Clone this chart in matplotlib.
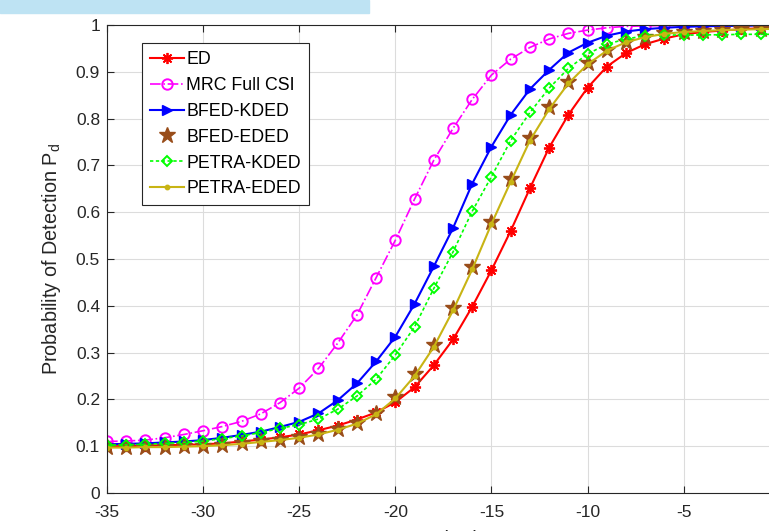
import numpy as np
import matplotlib
matplotlib.use("Agg")
import matplotlib.pyplot as plt
from matplotlib.patches import Rectangle
from matplotlib.ticker import FuncFormatter

plt.rcParams['font.family'] = ['Liberation Sans', 'DejaVu Sans']
plt.rcParams['axes.unicode_minus'] = False

# SNR grid (dB)
snr = np.arange(-35, 1)

# ED
pd_ed = [0.100, 0.100, 0.101, 0.102, 0.103, 0.104, 0.106, 0.110, 0.114, 0.119,
         0.125, 0.134, 0.144, 0.157, 0.172, 0.194, 0.226, 0.273, 0.328, 0.398,
         0.476, 0.560, 0.651, 0.738, 0.808, 0.866, 0.911, 0.940, 0.959, 0.971,
         0.980, 0.985, 0.988, 0.991, 0.993, 0.995]
# MRC Full CSI
pd_mrc = [0.110, 0.111, 0.113, 0.118, 0.125, 0.133, 0.142, 0.153, 0.169, 0.193,
          0.224, 0.266, 0.320, 0.380, 0.460, 0.540, 0.628, 0.711, 0.779, 0.841,
          0.893, 0.927, 0.952, 0.970, 0.982, 0.989, 0.994, 0.997, 0.998, 0.999,
          0.999, 1.000, 1.000, 1.000, 1.000, 1.000]
# BFED-KDED
pd_bfed_kded = [0.104, 0.105, 0.106, 0.108, 0.110, 0.113, 0.118, 0.124, 0.131, 0.141,
                0.152, 0.170, 0.198, 0.234, 0.281, 0.334, 0.404, 0.484, 0.566, 0.661,
                0.740, 0.808, 0.863, 0.904, 0.941, 0.962, 0.977, 0.986, 0.991, 0.994,
                0.996, 0.997, 0.998, 0.998, 0.999, 0.999]
# BFED-EDED
pd_bfed_eded = [0.098, 0.098, 0.099, 0.099, 0.100, 0.101, 0.103, 0.106, 0.110, 0.114,
                0.119, 0.126, 0.136, 0.149, 0.170, 0.205, 0.254, 0.316, 0.395, 0.483,
                0.580, 0.670, 0.758, 0.824, 0.878, 0.918, 0.947, 0.964, 0.975, 0.982,
                0.986, 0.988, 0.990, 0.991, 0.992, 0.993]
# PETRA-KDED
pd_petra_kded = [0.102, 0.103, 0.104, 0.106, 0.108, 0.111, 0.116, 0.122, 0.129, 0.138,
                 0.146, 0.158, 0.179, 0.207, 0.243, 0.295, 0.355, 0.437, 0.515, 0.602,
                 0.676, 0.753, 0.813, 0.865, 0.907, 0.938, 0.959, 0.970, 0.977, 0.979,
                 0.978, 0.979, 0.979, 0.980, 0.980, 0.980]
# PETRA-EDED
pd_petra_eded = [0.097, 0.097, 0.098, 0.098, 0.099, 0.100, 0.102, 0.105, 0.109, 0.113,
                 0.118, 0.125, 0.135, 0.148, 0.168, 0.202, 0.250, 0.312, 0.390, 0.478,
                 0.575, 0.665, 0.753, 0.820, 0.875, 0.916, 0.945, 0.963, 0.974, 0.981,
                 0.985, 0.987, 0.989, 0.990, 0.991, 0.992]

fig = plt.figure(figsize=(7.69, 5.31), dpi=100)
# plot runs past the right edge (cropped screenshot)
ax = fig.add_axes([0.1391, 0.0716, 0.875, 0.8814])

ax.plot(snr, pd_ed, color='#FF0000', lw=1.5, marker=(8, 2, 0), ms=8, mew=1.3, label='ED')
ax.plot(snr, pd_mrc, color='#FF00FF', lw=1.2, ls='-.', marker='o', ms=7.5, mfc='none',
        mew=1.4, label='MRC Full CSI')
ax.plot(snr, pd_bfed_kded, color='#0000FF', lw=1.5, marker='>', ms=6.5, label='BFED-KDED')
ax.plot(snr, pd_bfed_eded, ls='none', color='#994D1A', marker='*', ms=12,
        label='BFED-EDED')
ax.plot(snr, pd_petra_kded, color='#00FF00', lw=1.2, ls=(0, (2, 1.5)), marker='D', ms=5.5,
        mfc='none', mew=1.4, label='PETRA-KDED')
ax.plot(snr, pd_petra_eded, color='#C8B414', lw=1.5, marker='o', ms=3.2,
        label='PETRA-EDED')

ax.set_xlim(-35, 0)
ax.set_ylim(0, 1)
ax.set_xticks(np.arange(-35, 0, 5))
ax.set_yticks(np.arange(0, 1.01, 0.1))
ax.yaxis.set_major_formatter(FuncFormatter(lambda v, p: '%g' % round(v, 1)))
ax.grid(True, color='#DCDCDC', lw=0.8)
ax.set_axisbelow(True)
ax.tick_params(direction='in', top=True, right=True, length=5, width=0.8,
               labelsize=12.5, labelcolor='#262626', color='#262626', pad=5)
ax.tick_params(axis='x', pad=9)
for s in ax.spines.values():
    s.set_color('#262626')
    s.set_linewidth(0.8)

ax.set_ylabel('Probability of Detection P$_\\mathregular{d}$', fontsize=14.3, color='#262626',
              labelpad=9)
ax.set_xlabel('SNR in dB', fontsize=14.3, color='#262626', labelpad=7)

leg = ax.legend(loc='upper left', bbox_to_anchor=(0.052, 0.9615), borderaxespad=0,
                fontsize=12.8, frameon=True, fancybox=False, edgecolor='#262626',
                framealpha=1, handlelength=1.9, handletextpad=0.15, borderpad=0.45,
                labelspacing=0.5)
leg.get_frame().set_linewidth(0.8)

# light blue strip at top-left of the screenshot
fig.patches.append(Rectangle((0, 1 - 13 / 531), 369 / 769, 13 / 531,
                             transform=fig.transFigure, color='#BEE3F3', zorder=0))

fig.savefig('out.png', dpi=100)
